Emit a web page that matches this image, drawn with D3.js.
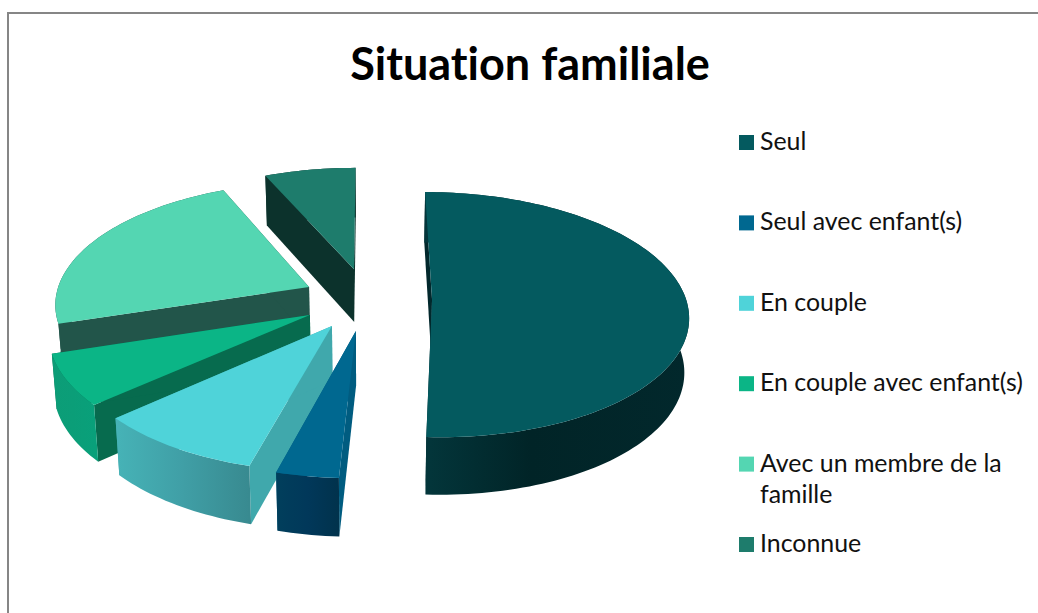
<!DOCTYPE html>
<html lang="fr">
<head>
<meta charset="utf-8">
<title>Situation familiale</title>
<script src="https://cdn.jsdelivr.net/npm/d3@7"></script>
<style>
html,body{margin:0;padding:0;background:#fff;overflow:hidden}
svg{display:block}
text{font-family:Lato,"Open Sans",sans-serif;fill:#111;font-variant-ligatures:none}
</style>
</head>
<body>
<svg id="chart" width="1038" height="613"></svg>
<script>
// ---- data (percent) ----
const chartTitle = "Situation familiale";
const categories = ["Seul", "Seul avec enfant(s)", "En couple", "En couple avec enfant(s)", "Avec un membre de la famille", "Inconnue"];
const shares = [50.8, 3.4, 9.25, 6.7, 23.2, 6.65];

// ---- styles, one entry per category ----
const topColors    = ["#045a5f", "#006890", "#4fd3d9", "#0bb586", "#54d6b2", "#1e7c6c"];
const sideColors   = ["#02282c", "#005c80", "#40a8ac", "#076b4e", "#22554a", "#0c322c"];
const rimFrom      = ["#03363b", "#013f5c", "#46b3b7", "#0c9d77", "#22554a", "#0c322c"];
const rimMid       = ["#012427", "#01385a", "#409fa6", "#0b9e78", "#22554a", "#0c322c"];
const rimTo        = ["#02282c", "#01324c", "#388a90", "#09a07a", "#22554a", "#0c322c"];
const rimMidStop   = [0.4, 0.5, 0.5, 0.5, 0.5, 0.5];
// how far each slice is pulled out of the pie, in pie radii
const explodeX = [0.248, -0.050, -0.142, -0.229, -0.239, -0.061];
const explodeY = [0.200,  0.452,  0.413,  0.325,  0.095, -0.060];
const legendLines = [["Seul"], ["Seul avec enfant(s)"], ["En couple"], ["En couple avec enfant(s)"], ["Avec un membre de la", "famille"], ["Inconnue"]];

// ---- layout ----
const pieCx = 369, pieCy = 276, pieRx = 248, pieRy = 115;
const persp = 0.12, depth = 53, depthPersp = 0.065, depthShrink = 0.015;

const svg = d3.select("#chart");
const defs = svg.append("defs");

// frame
svg.append("rect").attr("x", 8).attr("y", 13).attr("width", 1100).attr("height", 700)
  .attr("fill", "#fff").attr("stroke", "#868686").attr("stroke-width", 2);

svg.append("text").attr("x", 530).attr("y", 80).attr("text-anchor", "middle")
  .attr("font-size", 45).attr("font-weight", 700).style("fill", "#000").text(chartTitle);

const sx = d3.scaleLinear().domain([-1, 1]).range([pieCx - pieRx, pieCx + pieRx]);
const sy = d3.scaleLinear().domain([-1, 1]).range([pieCy - pieRy, pieCy + pieRy]);

function project(X, Y, z) {
  const w = 1 - persp * Y;
  const x = sx(X / w), y = sy(Y / w);
  return [pieCx + (x - pieCx) * (1 - depthShrink * z), y + z * depth / (1 - depthPersp * Y)];
}

const slices = d3.pie().sort(null).value(d => d).startAngle(0).endAngle(2 * Math.PI)(shares);
const line = d3.line();

function rimPoint(i, a, z) {
  return project(explodeX[i] + Math.sin(a), explodeY[i] - Math.cos(a), z);
}
function arcAngles(s) {
  const n = Math.max(6, Math.ceil((s.endAngle - s.startAngle) * 40));
  return d3.range(n + 1).map(k => s.startAngle + (s.endAngle - s.startAngle) * k / n);
}

const g = svg.append("g");
slices.slice().reverse().forEach(s => {
  const i = s.index;
  const angles = arcAngles(s);
  const apexTop = project(explodeX[i], explodeY[i], 0);
  const apexBottom = project(explodeX[i], explodeY[i], 1);
  const slice = g.append("g").attr("class", "slice");

  [s.startAngle, s.endAngle].forEach(a => {
    slice.append("path")
      .attr("d", line([apexTop, rimPoint(i, a, 0), rimPoint(i, a, 1), apexBottom]) + "Z")
      .attr("fill", sideColors[i]);
  });

  const rimTop = angles.map(a => rimPoint(i, a, 0));
  const rimBottom = angles.map(a => rimPoint(i, a, 1)).reverse();
  const xs = rimTop.map(p => p[0]);
  const grad = defs.append("linearGradient").attr("id", "rim" + i)
    .attr("gradientUnits", "userSpaceOnUse")
    .attr("x1", d3.min(xs)).attr("x2", d3.max(xs)).attr("y1", 0).attr("y2", 0);
  grad.append("stop").attr("offset", 0).attr("stop-color", rimFrom[i]);
  grad.append("stop").attr("offset", rimMidStop[i]).attr("stop-color", rimMid[i]);
  grad.append("stop").attr("offset", 1).attr("stop-color", rimTo[i]);
  slice.append("path").attr("d", line(rimTop.concat(rimBottom)) + "Z").attr("fill", `url(#rim${i})`);

  slice.append("path").attr("d", line([apexTop].concat(rimTop)) + "Z").attr("fill", topColors[i]);
});

// legend
const rowY = d3.scalePoint().domain(categories).range([142.5, 544.5]);
const legend = svg.append("g").selectAll("g").data(categories).join("g")
  .attr("transform", d => `translate(739,${rowY(d)})`);
legend.append("rect").attr("x", 0).attr("y", -7.5).attr("width", 15).attr("height", 15)
  .attr("fill", (d, i) => topColors[i]);
legend.append("text").attr("font-size", 24.9)
  .attr("y", 7.5)
  .selectAll("tspan").data((d, i) => legendLines[i]).join("tspan")
  .attr("x", 21).attr("dy", (d, k) => k ? 31 : 0).text(d => d);
</script>
</body>
</html>
